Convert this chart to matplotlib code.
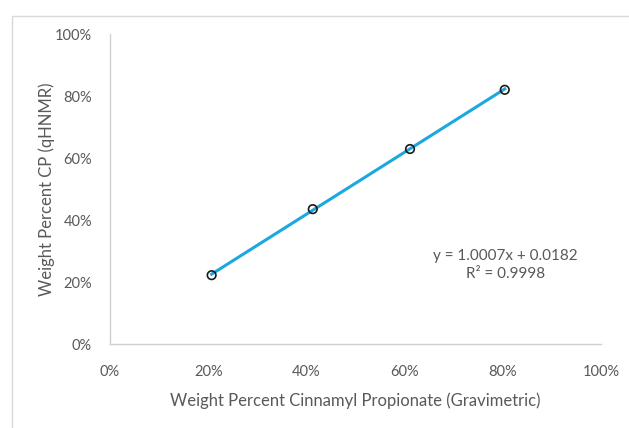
import matplotlib
matplotlib.use('Agg')
import matplotlib.pyplot as plt
from matplotlib.patches import Rectangle
from matplotlib.ticker import PercentFormatter
import numpy as np

# measured values (fractions)
x_grav = [0.207, 0.413, 0.611, 0.804]
y_nmr = [0.222, 0.435, 0.629, 0.820]
slope = 1.0007
intercept = 0.0182
eq_text = 'y = 1.0007x + 0.0182\nR² = 0.9998'
xlabel = 'Weight Percent Cinnamyl Propionate (Gravimetric)'
ylabel = 'Weight Percent CP (qHNMR)'
ticks = [0, 0.2, 0.4, 0.6, 0.8, 1.0]

TXT = '#595959'
plt.rcParams['font.family'] = ['Lato', 'DejaVu Sans']

fig = plt.figure(figsize=(6.29, 4.28), dpi=100)
fig.patch.set_facecolor('white')

# outer chart frame (cut off at right/bottom like the screenshot)
fig.add_artist(Rectangle((12 / 629, -0.1), 1.2, 1 - 16 / 428 + 0.1,
                         transform=fig.transFigure, fill=False,
                         edgecolor='#d9d9d9', linewidth=1.0))

ax = fig.add_axes([110 / 629, 1 - 344 / 428, (601 - 110) / 629, (344 - 34) / 428])
ax.set_xlim(0, 1)
ax.set_ylim(0, 1)

# trendline over the data range
xs = np.array([min(x_grav), max(x_grav)])
ax.plot(xs, slope * xs + intercept, color='#1BA8E0', linewidth=2.2, zorder=2)
ax.scatter(x_grav, y_nmr, s=38, facecolors='none', edgecolors='#1a1a1a',
           linewidths=1.2, zorder=3)

ax.set_xticks(ticks)
ax.set_yticks(ticks)
ax.xaxis.set_major_formatter(PercentFormatter(1.0, decimals=0))
ax.yaxis.set_major_formatter(PercentFormatter(1.0, decimals=0))
ax.tick_params(length=0, labelsize=10.5, colors=TXT)
ax.tick_params(axis='x', pad=15)
ax.tick_params(axis='y', pad=13)

for s in ['top', 'right']:
    ax.spines[s].set_visible(False)
for s in ['left', 'bottom']:
    ax.spines[s].set_color('#d0d0d0')
    ax.spines[s].set_linewidth(1.0)

ax.set_xlabel(xlabel, fontsize=12, color=TXT, labelpad=10)
ax.set_ylabel(ylabel, fontsize=12, color=TXT, labelpad=0)

ax.text(0.805, 0.255, eq_text, transform=ax.transAxes, ha='center', va='center',
        fontsize=11, color=TXT, linespacing=1.3)

fig.savefig('out.png', dpi=100, facecolor='white')
